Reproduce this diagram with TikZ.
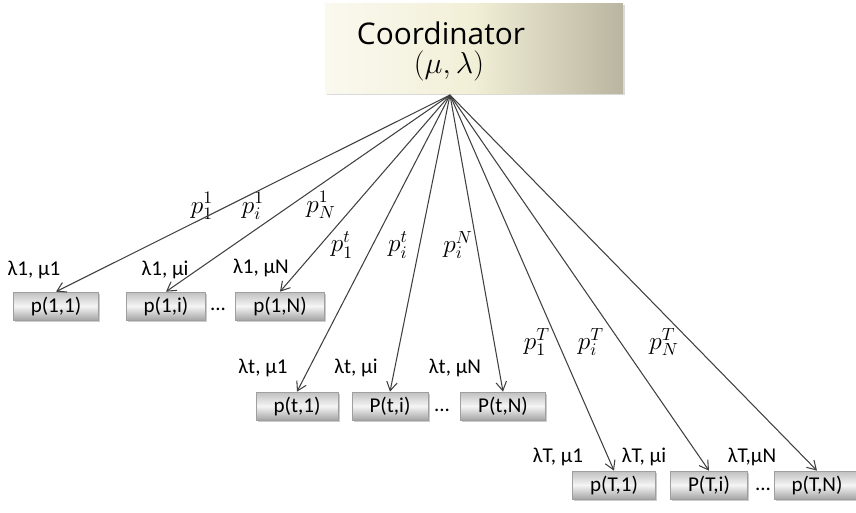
\documentclass[tikz,border=0pt]{standalone}
\usepackage{fontspec}
\setmainfont{Carlito}
\newfontfamily\headfont{Open Sans}
\usetikzlibrary{arrows.meta, shadows}

\definecolor{creamlight}{HTML}{FAF9EF}
\definecolor{cream}{HTML}{F2EFD7}
\definecolor{creamedge}{HTML}{B9B5A0}

\begin{document}
\begin{tikzpicture}[x=0.02cm, y=-0.02cm, >={Straight Barb[length=5pt, width=6pt]},
  every node/.style={font=\fontsize{12}{14}\selectfont},
  pbox/.style={draw=gray!75, top color=gray!50, bottom color=gray!70, middle color=gray!8,
    minimum height=0.56cm, inner xsep=0.35cm, inner ysep=0pt,
    drop shadow={shadow xshift=0.9pt, shadow yshift=-0.9pt, opacity=0.4}},
  coordbox/.style={left color=creamlight, right color=creamedge, middle color=cream,
    minimum width=5.96cm, minimum height=1.8cm,
    drop shadow={shadow xshift=1.2pt, shadow yshift=-1.2pt, opacity=0.3}},
  dots/.style={font=\fontsize{12}{14}\selectfont},
  price/.style={font=\fontsize{14}{16}\selectfont, inner sep=0pt},
  link/.style={->, draw=black!75, line width=0.6pt}]
  \useasboundingbox (0,0) rectangle (856,512);

  % coordinator
  \node[coordbox] (coord) at (474,48) {};
  \node[font=\headfont\fontsize{17}{20}\selectfont] (title) at (441,33) {Coordinator};
  \node[font=\fontsize{19}{22}\selectfont] (params) at (449,66) {$(\mu,\lambda)$};
  \coordinate (hub) at (450,95);

  % processors, first row
  \node[pbox] (b11) at (56,306) {p(1,1)};
  \node[pbox] (b1i) at (166,306) {p(1,i)};
  \node[dots] (d1) at (218,309) {...};
  \node[pbox] (b1N) at (280,306) {p(1,N)};
  \node (l11) at (34,270) {λ1, μ1};
  \node (l1i) at (165,270) {λ1, μi};
  \node (l1N) at (261,268) {λ1, μN};

  % second row
  \node[pbox] (bt1) at (297,406) {p(t,1)};
  \node[pbox] (bti) at (390,406) {P(t,i)};
  \node[dots] (d2) at (442,410) {...};
  \node[pbox] (btN) at (503,406) {P(t,N)};
  \node (lt1) at (263,368) {λt, μ1};
  \node (lti) at (356,368) {λt, μi};
  \node (ltN) at (455,368) {λt, μN};

  % third row
  \node[pbox] (bT1) at (614,485) {p(T,1)};
  \node[pbox] (bTi) at (709,485) {P(T,i)};
  \node[dots] (d3) at (763,489) {...};
  \node[pbox] (bTN) at (817,485) {p(T,N)};
  \node (lT1) at (558,457) {λT, μ1};
  \node (lTi) at (644,457) {λT, μi};
  \node (lTN) at (752,457) {λT,μN};

  % prices
  \node[price] (p11) at (202,206) {$p_1^1$};
  \node[price] (pi1) at (253,206) {$p_i^1$};
  \node[price] (pN1) at (321,205) {$p_N^1$};
  \node[price] (p1t) at (342,245) {$p_1^t$};
  \node[price] (pit) at (398,245) {$p_i^t$};
  \node[price] (piN) at (458,245) {$p_i^N$};
  \node[price] (p1T) at (537,342) {$p_1^T$};
  \node[price] (piT) at (591,342) {$p_i^T$};
  \node[price] (pNT) at (664,342) {$p_N^T$};

  % links
  \draw[link] (hub) -- (b11.north);
  \draw[link] (hub) -- (b1i.north);
  \draw[link] (hub) -- (b1N.north);
  \draw[link] (hub) -- (bt1.north);
  \draw[link] (hub) -- (bti.north);
  \draw[link] (hub) -- (btN.north);
  \draw[link] (hub) -- (bT1.north);
  \draw[link] (hub) -- (bTi.north);
  \draw[link] (hub) -- (bTN.north);
\end{tikzpicture}
\end{document}
